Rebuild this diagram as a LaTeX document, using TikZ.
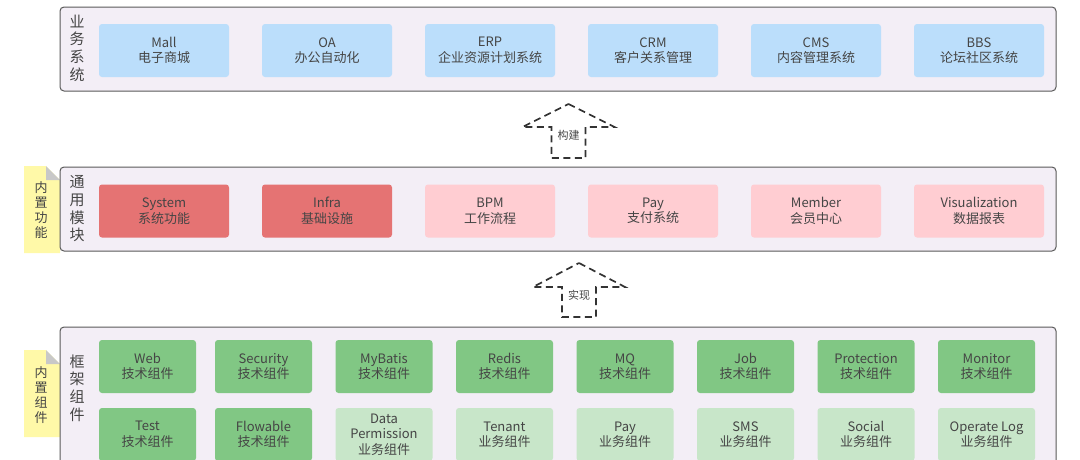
\documentclass[tikz,border=0pt]{standalone}
\usepackage{fontspec}
\setmainfont{Noto Sans CJK SC}
\usepackage{xcolor}
\usetikzlibrary{positioning}

\definecolor{panelfill}{HTML}{F3EEF6}
\definecolor{panelline}{HTML}{5A5A5A}
\definecolor{textgray}{HTML}{454545}
\definecolor{bluefill}{HTML}{BBDEFB}
\definecolor{redfill}{HTML}{E57373}
\definecolor{pinkfill}{HTML}{FFCDD2}
\definecolor{darkgreen}{HTML}{81C784}
\definecolor{lightgreen}{HTML}{C8E6C9}
\definecolor{notefill}{HTML}{FFF9A8}
\definecolor{foldgray}{HTML}{C8C8C8}
\definecolor{arrowgray}{HTML}{333333}

\tikzset{
  panel/.style={draw=panelline, fill=panelfill, rounded corners=4pt, line width=1pt},
  block/.style={rounded corners=3pt, minimum width=130pt, minimum height=53pt, align=center,
    text=textgray, font=\fontsize{13}{15.5}\selectfont},
  sysblock/.style={block, fill=bluefill},
  coreblock/.style={block, fill=redfill},
  modblock/.style={block, fill=pinkfill},
  techcomp/.style={block, minimum width=97pt, fill=darkgreen},
  bizcomp/.style={block, minimum width=97pt, fill=lightgreen},
  vtitle/.style={align=center, text=textgray, font=\fontsize{15}{17.7}\selectfont},
  notetext/.style={align=center, text=textgray, font=\fontsize{13}{15}\selectfont},
  dasharrow/.style={draw=arrowgray, line width=1.7pt, dash pattern=on 7pt off 4.5pt},
  arrowtext/.style={text=textgray, font=\fontsize{11}{13}\selectfont}
}

\begin{document}
\begin{tikzpicture}[x=1pt, y=-1pt, node distance=163pt, on grid]
	\useasboundingbox (0,0) rectangle (1080,459);
	\clip (0,0) rectangle (1080,459);
	\fill[white] (0,0) rectangle (1080,459);
	
	% sticky notes
	\fill[notefill] (24,166) -- (46,166) -- (60,180) -- (60,253) -- (24,253) -- cycle;
	\fill[foldgray] (46,166) -- (60,180) -- (46,180) -- cycle;
	\fill[notefill] (24,350) -- (46,350) -- (60,364) -- (60,437) -- (24,437) -- cycle;
	\fill[foldgray] (46,350) -- (60,364) -- (46,364) -- cycle;
	\node[notetext] (funcnote) at (41,210) {内\\置\\功\\能};
	\node[notetext] (compnote) at (41,395) {内\\置\\组\\件};
	
	% panels
	\draw[panel] (60,7) rectangle (1056,91);
	\draw[panel] (60,167) rectangle (1056,251);
	\draw[panel] (60,327) rectangle (1056,480);
	
	% business systems
	\node[vtitle] (systitle) at (77,48) {业\\务\\系\\统};
	\node[sysblock] (mall) at (164,50.5) {Mall\\电子商城};
	\node[sysblock] (oa) [right=of mall] {OA\\办公自动化};
	\node[sysblock] (erp) [right=of oa] {ERP\\企业资源计划系统};
	\node[sysblock] (crm) [right=of erp] {CRM\\客户关系管理};
	\node[sysblock] (cms) [right=of crm] {CMS\\内容管理系统};
	\node[sysblock] (bbs) [right=of cms] {BBS\\论坛社区系统};
	
	% build arrow
	\node[arrowtext] (build) at (568.5,135) {构建};
	\draw[dasharrow] (build) ++(0,-31) -- ++(46,23) -- ++(-29,0) -- ++(0,31)
		-- ++(-34,0) -- ++(0,-31) -- ++(-29,0) -- cycle;
	
	% common modules
	\node[vtitle] (modtitle) at (77,209) {通\\用\\模\\块};
	\node[coreblock] (system) at (164,211) {System\\系统功能};
	\node[coreblock] (infra) [right=of system] {Infra\\基础设施};
	\node[modblock] (bpm) [right=of infra] {BPM\\工作流程};
	\node[modblock] (pay) [right=of bpm] {Pay\\支付系统};
	\node[modblock] (member) [right=of pay] {Member\\会员中心};
	\node[modblock] (visual) [right=of member] {Visualization\\数据报表};
	
	% implement arrow
	\node[arrowtext] (impl) at (579,295) {实现};
	\draw[dasharrow] (impl) ++(0,-32) -- ++(46,24) -- ++(-29,0) -- ++(0,30)
		-- ++(-34,0) -- ++(0,-30) -- ++(-29,0) -- cycle;
	
	% framework components
	\node[vtitle] (comptitle) at (77,388) {框\\架\\组\\件};
	\begin{scope}[node distance={68pt and 120.5pt}]
		\node[techcomp] (web) at (147.5,366.5) {Web\\技术组件};
		\node[techcomp] (security) [right=116pt of web] {Security\\技术组件};
		\node[techcomp] (mybatis) [right=of security] {MyBatis\\技术组件};
		\node[techcomp] (redis) [right=of mybatis] {Redis\\技术组件};
		\node[techcomp] (mq) [right=of redis] {MQ\\技术组件};
		\node[techcomp] (job) [right=of mq] {Job\\技术组件};
		\node[techcomp] (protection) [right=of job] {Protection\\技术组件};
		\node[techcomp] (monitor) [right=of protection] {Monitor\\技术组件};
		
		\node[techcomp] (test) [below=of web] {Test\\技术组件};
		\node[techcomp] (flowable) [below=of security] {Flowable\\技术组件};
		\node[bizcomp] (dataperm) [below=of mybatis] {Data\\Permission\\业务组件};
		\node[bizcomp] (tenant) [below=of redis] {Tenant\\业务组件};
		\node[bizcomp] (paycomp) [below=of mq] {Pay\\业务组件};
		\node[bizcomp] (sms) [below=of job] {SMS\\业务组件};
		\node[bizcomp] (social) [below=of protection] {Social\\业务组件};
		\node[bizcomp] (oplog) [below=of monitor] {Operate Log\\业务组件};
	\end{scope}
\end{tikzpicture}
\end{document}
